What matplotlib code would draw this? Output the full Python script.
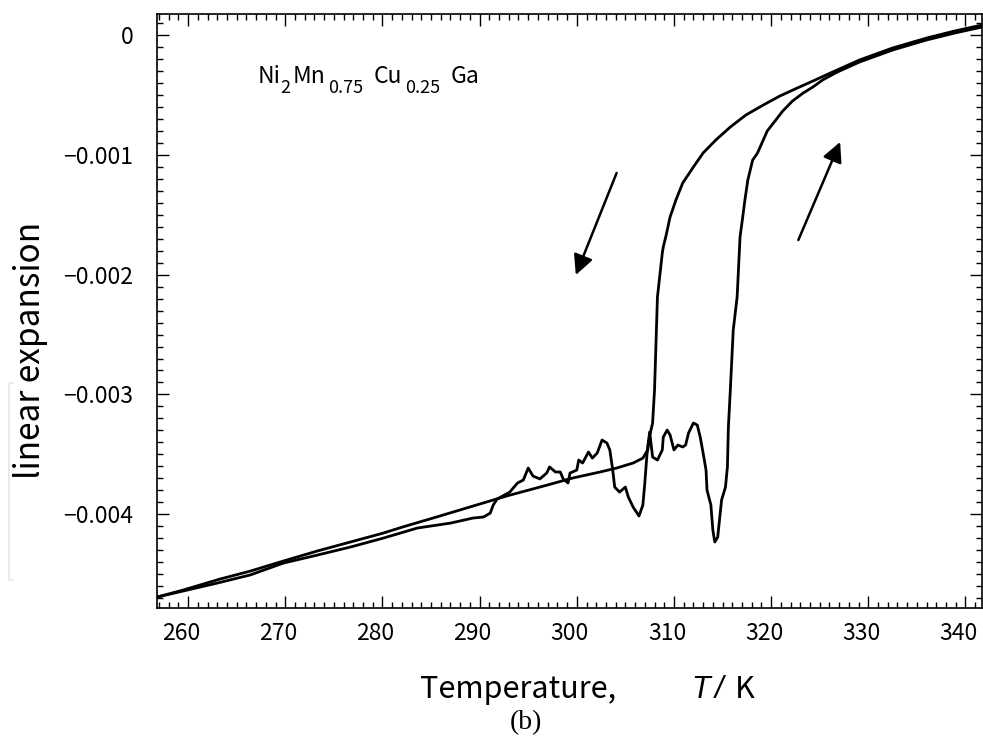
import matplotlib
matplotlib.use("Agg")
import matplotlib.pyplot as plt
import matplotlib.transforms as mtransforms
from matplotlib.lines import Line2D
from matplotlib.ticker import MultipleLocator
import numpy as np

plt.rcParams["font.family"] = ["Noto Sans CJK JP", "DejaVu Sans"]

# cooling run (smooth branch); T in K, expansion in units of 1e-3
cool_T = [341.7, 338.9, 336.0, 332.5, 329.1, 326.1, 324.3, 322.7, 320.9, 319.2,
          317.4, 315.8, 314.3, 313.0, 312.0, 310.9, 310.2, 309.6, 309.2, 308.9,
          308.8, 308.3, 308.0, 307.8, 307.5, 307.3, 306.8, 305.8, 304.1, 302.4,
          299.6, 296.2, 292.8, 289.3, 285.9, 282.1, 280.1, 276.7, 273.3, 269.8,
          266.4, 263.3, 259.5, 256.8]
cool_dl = [0.086, 0.036, -0.023, -0.106, -0.206, -0.315, -0.382, -0.440, -0.507, -0.582,
           -0.666, -0.766, -0.875, -0.983, -1.100, -1.234, -1.376, -1.518, -1.668, -1.768,
           -1.819, -2.186, -2.963, -3.239, -3.347, -3.464, -3.532, -3.573, -3.615, -3.648,
           -3.698, -3.774, -3.848, -3.933, -4.016, -4.107, -4.158, -4.233, -4.308, -4.392,
           -4.476, -4.542, -4.634, -4.693]

# heating run (noisy branch)
heat_T = [256.8, 263.0, 266.4, 269.8, 273.3, 276.7, 280.1, 283.6, 287.0, 289.3,
          290.4, 291.1, 291.4, 291.8, 293.1, 293.9, 294.5, 295.0, 295.5, 296.2,
          296.9, 297.2, 297.8, 298.3, 298.6, 299.1, 299.3, 300.0, 300.2, 300.6,
          301.2, 301.6, 302.1, 302.6, 303.1, 303.4, 303.7, 303.9, 304.4, 305.0,
          305.3, 305.8, 306.4, 306.8, 307.0, 307.2, 307.3, 307.5, 307.8, 308.3,
          308.8, 308.9, 309.3, 309.6, 310.0, 310.4, 310.9, 311.2, 311.5, 312.0,
          312.4, 312.7, 313.0, 313.3, 313.4, 313.8, 314.0, 314.2, 314.5, 314.9,
          315.3, 315.5, 315.6, 315.8, 316.1, 316.5, 316.8, 317.1, 317.3, 317.6,
          318.1, 318.6, 319.6, 320.4, 321.2, 322.2, 323.3, 324.3, 325.3, 326.8,
          329.1, 332.5, 336.0, 338.9, 341.7]
heat_dl = [-4.693, -4.576, -4.508, -4.409, -4.342, -4.275, -4.200, -4.116, -4.075, -4.033,
           -4.024, -3.991, -3.924, -3.874, -3.816, -3.740, -3.715, -3.615, -3.682, -3.706,
           -3.657, -3.606, -3.648, -3.648, -3.706, -3.740, -3.657, -3.632, -3.548, -3.573,
           -3.481, -3.532, -3.490, -3.381, -3.406, -3.464, -3.632, -3.774, -3.816, -3.774,
           -3.857, -3.941, -4.016, -3.924, -3.740, -3.523, -3.439, -3.314, -3.523, -3.548,
           -3.464, -3.356, -3.298, -3.339, -3.464, -3.423, -3.439, -3.423, -3.322, -3.239,
           -3.256, -3.356, -3.490, -3.632, -3.799, -3.924, -4.133, -4.233, -4.192, -3.882,
           -3.774, -3.606, -3.273, -2.963, -2.462, -2.186, -1.685, -1.502, -1.376, -1.209,
           -1.042, -0.983, -0.799, -0.716, -0.632, -0.549, -0.482, -0.432, -0.373, -0.307,
           -0.223, -0.123, -0.039, 0.019, 0.069]

y_ticks = [0, -0.001, -0.002, -0.003, -0.004]
y_tick_labels = ["0", "\u22120.001", "\u22120.002", "\u22120.003", "\u22120.004"]

# composition label pieces: text, T position, baseline (1e-3), font size
formula_parts = ["Ni", "2", "Mn", "0.75", "Cu", "0.25", "Ga"]
formula_T = [267.2, 269.5, 270.8, 274.4, 279.1, 282.3, 287.0]
formula_y = [-0.401, -0.480, -0.401, -0.480, -0.401, -0.480, -0.401]
formula_size = [16.5, 13, 16.5, 13, 16.5, 13, 16.5]

fig = plt.figure(figsize=(9.83, 7.4), dpi=100)
ax = fig.add_axes([0.1597, 0.1784, 0.8393, 0.8027])

ax.plot(cool_T, np.array(cool_dl) * 1e-3, color="black", lw=2.0)
ax.plot(heat_T, np.array(heat_dl) * 1e-3, color="black", lw=2.0)

ax.set_xlim(256.8, 341.7)
ax.set_ylim(-0.004784, 0.000178)

ax.xaxis.set_major_locator(MultipleLocator(10))
ax.xaxis.set_minor_locator(MultipleLocator(1))
ax.set_yticks(y_ticks)
ax.set_yticklabels(y_tick_labels)
ax.yaxis.set_minor_locator(MultipleLocator(0.0001))
ax.tick_params(which="both", direction="in", top=True, right=True, width=1.0)
ax.tick_params(which="major", length=8.5, labelsize=16.5)
ax.tick_params(axis="x", which="major", pad=10)
ax.tick_params(axis="y", which="major", pad=17)
ax.tick_params(which="minor", length=4.3)
for side in ax.spines.values():
    side.set_linewidth(1.2)

# the x tick labels sit a little left of their ticks in the original
shift = mtransforms.ScaledTranslation(-0.07, 0, fig.dpi_scale_trans)
for lab in ax.get_xticklabels():
    lab.set_transform(lab.get_transform() + shift)

for part, t, y, size in zip(formula_parts, formula_T, formula_y, formula_size):
    ax.text(t, y * 1e-3, part, fontsize=size, va="baseline", ha="left")

arrow = dict(arrowstyle="-|>", lw=1.8, color="black", mutation_scale=30, shrinkA=0, shrinkB=0)
ax.annotate("", xy=(299.9, -0.002002), xytext=(304.1, -0.001150), arrowprops=arrow)
ax.annotate("", xy=(327.1, -0.000891), xytext=(322.8, -0.001710), arrowprops=arrow)

fig.text(0.427, 0.0676, "Temperature,", fontsize=22, va="center", ha="left")
fig.text(0.703, 0.0676, "T", fontsize=22, va="center", ha="left", style="italic",
         family="Liberation Sans")
fig.text(0.727, 0.0676, "/", fontsize=22, va="center", ha="left", style="italic",
         family="Liberation Sans")
fig.text(0.748, 0.0676, "K", fontsize=22, va="center", ha="left")
fig.text(0.0315, 0.527, "linear expansion", fontsize=24, rotation=90, va="center", ha="center")
fig.text(0.535, 0.024, "(b)", fontsize=20, va="center", ha="center", family="Liberation Serif")

# faint bracket mark left of the axis in the original scan
fig.add_artist(Line2D([13 / 983, 9 / 983, 9 / 983, 13 / 983],
                      [1 - 383 / 740, 1 - 383 / 740, 1 - 580 / 740, 1 - 580 / 740],
                      color="#e6e6e6", lw=1.2))

fig.savefig("out.png", dpi=100)
